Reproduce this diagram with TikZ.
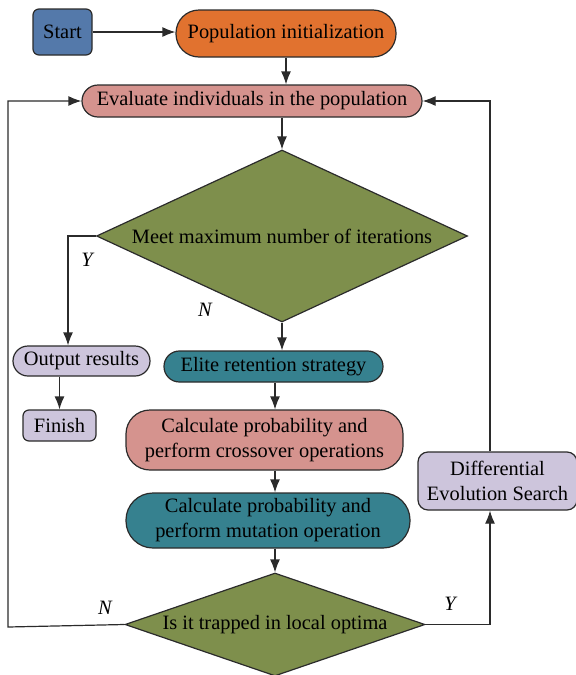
\documentclass[tikz,border=0pt]{standalone}
\usepackage{fontspec}
\setmainfont{Liberation Serif}
\usepackage{xcolor}
\usetikzlibrary{arrows.meta}
\usetikzlibrary{shapes.geometric}

\definecolor{startblue}{HTML}{5479AA}
\definecolor{poporange}{HTML}{E1722F}
\definecolor{evalpink}{HTML}{D5938E}
\definecolor{diagreen}{HTML}{7E8F4C}
\definecolor{stepteal}{HTML}{36818F}
\definecolor{lavender}{HTML}{CDC5DC}
\definecolor{linegray}{HTML}{2B2B2B}

\begin{document}
\begin{tikzpicture}[x=0.5pt,y=-0.5pt,
        font=\fontsize{10.2pt}{12.5pt}\selectfont,
        box/.style={draw=linegray,line width=0.6pt,inner sep=0pt,align=center},
        decision/.style={box,diamond,fill=diagreen},
        flow/.style={draw=linegray,line width=0.6pt,-{Latex[length=6.5pt,width=5pt]}},
        answer/.style={font=\fontsize{10.2pt}{12.5pt}\selectfont\itshape}]
        \useasboundingbox (0,0) rectangle (576,675);
        % boxes
        \node[box,fill=startblue,rounded corners=3pt,minimum width=29.5pt,minimum height=23pt] (start) at (62.5,32) {Start};
        \node[box,fill=poporange,rounded corners=11.5pt,minimum width=110pt,minimum height=23.5pt] (pop) at (286,33.5) {Population initialization};
        \node[box,fill=evalpink,rounded corners=8pt,minimum width=170pt,minimum height=16pt] (eval) at (252,101) {Evaluate individuals in the population};
        \node[decision,aspect=2.16,minimum width=185.5pt,minimum height=86pt] (maxiter) at (282,236) {Meet maximum number of iterations};
        \node[box,fill=lavender,rounded corners=7.5pt,minimum width=68.5pt,minimum height=15pt] (output) at (81.5,361) {Output results};
        \node[box,fill=lavender,rounded corners=3pt,minimum width=36.5pt,minimum height=15.5pt] (finish) at (59.5,425.5) {Finish};
        \node[box,fill=stepteal,rounded corners=7.7pt,minimum width=109.5pt,minimum height=15.5pt] (elite) at (273.5,366.5) {Elite retention strategy};
        \node[box,fill=evalpink,rounded corners=12pt,minimum width=138.5pt,minimum height=30pt] (cross) at (264.5,440) {Calculate probability and\\perform crossover operations};
        \node[box,fill=stepteal,rounded corners=13.5pt,minimum width=142pt,minimum height=27.5pt] (mut) at (268,520.5) {Calculate probability and\\perform mutation operation};
        \node[decision,aspect=2.9,minimum width=150pt,minimum height=51.5pt] (trapped) at (275,624.5) {Is it trapped in local optima};
        \node[box,fill=lavender,rounded corners=5pt,minimum width=79.5pt,minimum height=29pt] (de) at (497.5,481) {Differential\\Evolution Search};
        \coordinate (back) at (8,627);
        % arrows
        \draw[flow] (start.east) -- (start.east -| pop.west);
        \draw[flow] (pop.south) -- (pop.south |- eval.north);
        \draw[flow] (eval.south -| maxiter.north) -- (maxiter.north);
        \draw[flow] (maxiter.west) -| ([xshift=-6.75pt]output.north);
        \draw[flow] (finish.north |- output.south) -- (finish.north);
        \draw[flow] (maxiter.south) -- (maxiter.south |- elite.north);
        \draw[flow] (elite.south -| trapped.north) -- (cross.north -| trapped.north);
        \draw[flow] (cross.south -| trapped.north) -- (mut.north -| trapped.north);
        \draw[flow] (mut.south -| trapped.north) -- (trapped.north);
        \draw[flow] (trapped.west) -- (back) |- (eval.west);
        \draw[flow] (trapped.east) -| ([xshift=-3.75pt]de.south);
        \draw[flow] ([xshift=-3.75pt]de.north) |- (eval.east);
        % labels
        \node[answer] (y1) at (87,260) {Y};
        \node[answer] (n1) at (205,310) {N};
        \node[answer] (n2) at (105,608) {N};
        \node[answer] (y2) at (450,604) {Y};
\end{tikzpicture}
\end{document}
